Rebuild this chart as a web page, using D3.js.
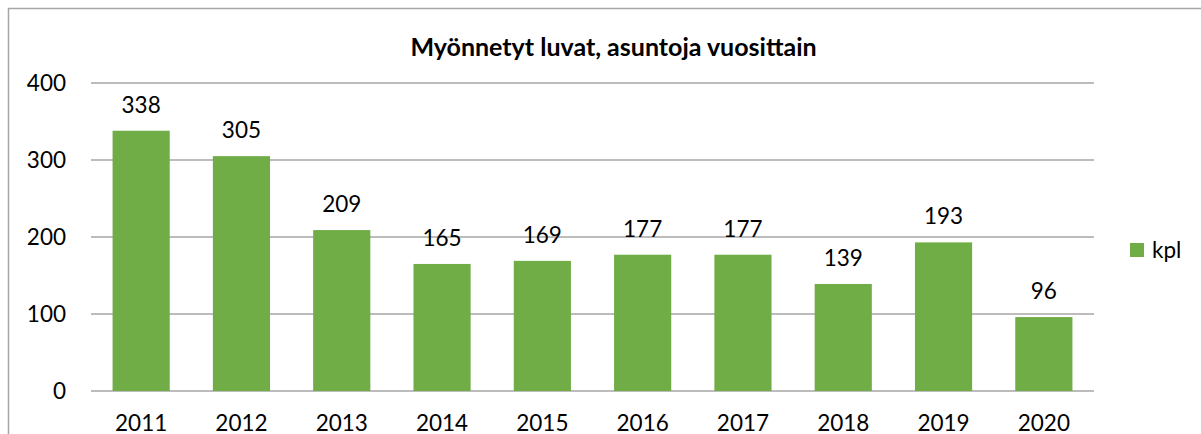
<!DOCTYPE html>
<html>
<head>
<meta charset="utf-8">
<title>Myönnetyt luvat</title>
<script src="https://cdn.jsdelivr.net/npm/d3@7"></script>
<style>
  body { margin: 0; background: #fff; }
  svg text { font-family: Lato, "Open Sans", sans-serif; fill: #000; }
</style>
</head>
<body>
<div id="chart"></div>
<script>
// data
var years = ["2011", "2012", "2013", "2014", "2015", "2016", "2017", "2018", "2019", "2020"];
var kpl = [338, 305, 209, 165, 169, 177, 177, 139, 193, 96];
var yTicks = [0, 100, 200, 300, 400];
var seriesName = "kpl";
var title = "Myönnetyt luvat, asuntoja vuosittain";

var width = 1201, height = 434;
var green = "#70ad47";

var svg = d3.select("#chart").append("svg")
    .attr("width", width)
    .attr("height", height);

// outer chart frame (right and bottom edges fall outside the crop)
svg.append("path")
    .attr("d", "M8.5," + height + "V8.5H" + width)
    .attr("fill", "none")
    .attr("stroke", "#a6a6a6")
    .attr("stroke-width", 1.5);

var x = d3.scaleBand()
    .domain(years)
    .range([91, 1094])
    .paddingInner(0.43)
    .paddingOuter(0.215);

var y = d3.scaleLinear()
    .domain([0, 400])
    .range([391, 83]);

// gridlines
svg.append("g")
  .selectAll("line")
  .data(yTicks)
  .enter()
  .append("line")
    .attr("x1", 91)
    .attr("x2", 1094)
    .attr("y1", function(d) { return y(d); })
    .attr("y2", function(d) { return y(d); })
    .attr("stroke", "#a6a6a6")
    .attr("stroke-width", 1.5);

// y axis labels
var yAxis = svg.append("g")
    .attr("transform", "translate(66,0)")
    .call(d3.axisLeft(y).tickValues(yTicks).tickSize(0).tickPadding(0));
yAxis.select(".domain").remove();
yAxis.selectAll("text")
    .style("font-size", "22.5px")
    .attr("font-family", null);

// bars
svg.append("g")
  .selectAll("rect")
  .data(kpl)
  .enter()
  .append("rect")
    .attr("x", function(d, i) { return x(years[i]); })
    .attr("y", function(d) { return y(d); })
    .attr("width", x.bandwidth())
    .attr("height", function(d) { return y(0) - y(d); })
    .attr("fill", green);

// value labels
svg.append("g")
  .selectAll("text")
  .data(kpl)
  .enter()
  .append("text")
    .attr("x", function(d, i) { return x(years[i]) + x.bandwidth() / 2; })
    .attr("y", function(d) { return y(d) - 18; })
    .attr("text-anchor", "middle")
    .style("font-size", "22.5px")
    .text(function(d) { return d; });

// x axis labels
var xAxis = svg.append("g")
    .attr("transform", "translate(0,391)")
    .call(d3.axisBottom(x).tickSize(0).tickPadding(0));
xAxis.select(".domain").remove();
xAxis.selectAll("text")
    .attr("dy", null)
    .attr("y", 40)
    .style("font-size", "22.5px")
    .attr("font-family", null);

// title
svg.append("text")
    .attr("x", 613.5)
    .attr("y", 56)
    .attr("text-anchor", "middle")
    .style("font-size", "25px")
    .style("font-weight", "bold")
    .text(title);

// legend
var legend = svg.append("g")
    .attr("transform", "translate(1130,243)");
legend.append("rect")
    .attr("width", 14)
    .attr("height", 14)
    .attr("fill", green);
legend.append("text")
    .attr("x", 22)
    .attr("y", 14.5)
    .style("font-size", "22.5px")
    .text(seriesName);
</script>
</body>
</html>
